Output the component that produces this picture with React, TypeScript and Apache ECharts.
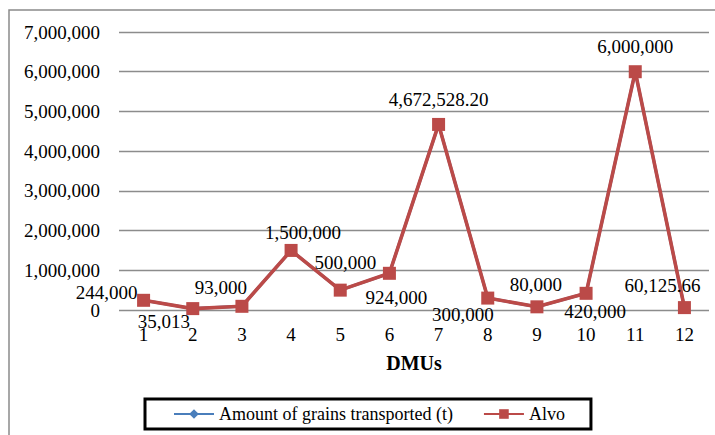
import React, { useEffect, useRef } from "react";
import * as echarts from "echarts";

const categories = ["1", "2", "3", "4", "5", "6", "7", "8", "9", "10", "11", "12"];
const grainsValues = [244000, 35013, 93000, 1500000, 500000, 924000, 4672528.2, 300000, 80000, 420000, 6000000, 60125.66];
const alvoValues = [244000, 35013, 93000, 1500000, 500000, 924000, 4672528.2, 300000, 80000, 420000, 6000000, 60125.66];
const alvoLabels = ["244,000", "35,013", "93,000", "1,500,000", "500,000", "924,000", "4,672,528.20", "300,000", "80,000", "420,000", "6,000,000", "60,125.66"];
const yTicks = [0, 1000000, 2000000, 3000000, 4000000, 5000000, 6000000, 7000000];

// label offsets (styling only)
const labelOffsets: [number, number][] = [
  [-37, -8], [-29, 13], [-21, -19], [12, -18], [5, -28], [7, 24],
  [0, -25], [-25, 16], [-1, -22], [9, 18], [0, -25], [-22, -22],
];

const FONT = "Liberation Serif";

export default function App() {
  const ref = useRef<HTMLDivElement>(null);
  useEffect(() => {
    const chart = echarts.init(ref.current!, undefined, { renderer: "svg" });
    const fmt = (v: number) => v.toLocaleString("en-US");
    chart.setOption({
      animation: false,
      backgroundColor: "#fff",
      textStyle: { fontFamily: FONT, color: "#000" },
      graphic: [
        {
          type: "rect",
          shape: { x: 9, y: 10, width: 720, height: 440 },
          style: { fill: "none", stroke: "#8a8a8a", lineWidth: 1.5 },
          silent: true,
        },
      ],
      grid: { left: 119, right: 6, top: 32, bottom: 125 },
      legend: {
        left: 145,
        top: 399,
        padding: [6, 26, 6, 28],
        borderColor: "#000",
        borderWidth: 3,
        itemWidth: 40,
        itemHeight: 12,
        itemGap: 30,
        textStyle: { fontFamily: FONT, fontSize: 18, color: "#000" },
        data: ["Amount of grains transported (t)", "Alvo"],
      },
      xAxis: {
        type: "category",
        data: categories,
        boundaryGap: true,
        name: "DMUs",
        nameLocation: "middle",
        nameGap: 43,
        nameTextStyle: { fontFamily: FONT, fontSize: 20, fontWeight: "bold", color: "#000" },
        axisLine: { show: false },
        axisTick: { show: false },
        axisLabel: { fontFamily: FONT, fontSize: 19, color: "#000", margin: 15 },
      },
      yAxis: {
        type: "value",
        min: yTicks[0],
        max: yTicks[yTicks.length - 1],
        interval: 1000000,
        axisLine: { show: false },
        axisTick: { show: false },
        axisLabel: { fontFamily: FONT, fontSize: 19, color: "#000", margin: 19, formatter: fmt },
        splitLine: { lineStyle: { color: "#8c8c8c", width: 1.3 } },
      },
      series: [
        {
          name: "Amount of grains transported (t)",
          type: "line",
          data: grainsValues,
          color: "#4a7ebb",
          symbol: "diamond",
          symbolSize: 10,
          lineStyle: { width: 3, color: "#4a7ebb" },
          itemStyle: { color: "#4a7ebb" },
          z: 1,
        },
        {
          name: "Alvo",
          type: "line",
          color: "#bb4a48",
          symbol: "rect",
          symbolSize: 13,
          lineStyle: { width: 3.6, color: "#bb4a48" },
          itemStyle: { color: "#bb4a48" },
          z: 3,
          data: alvoValues.map((v, i) => ({
            value: v,
            label: {
              show: true,
              position: "inside",
              offset: labelOffsets[i],
              formatter: alvoLabels[i],
              fontFamily: FONT,
              fontSize: 19,
              color: "#000",
            },
          })),
        },
      ],
    });
    return () => chart.dispose();
  }, []);
  return (
    <div
      ref={ref}
      style={{ position: "absolute", left: 0, top: 0, width: 715, height: 435 }}
    />
  );
}
